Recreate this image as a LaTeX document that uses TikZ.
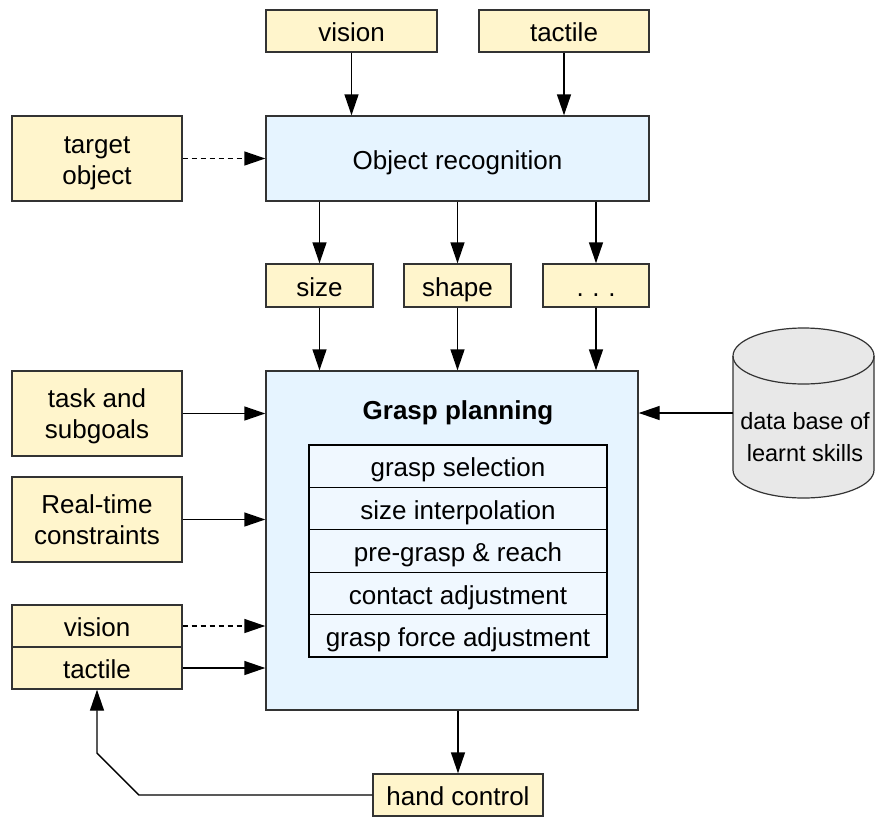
\documentclass[tikz,border=0pt]{standalone}
\usepackage{fontspec}
\setmainfont{Liberation Sans}
\usetikzlibrary{arrows.meta}
\definecolor{yel}{RGB}{255,245,204}
\definecolor{blu}{RGB}{230,244,255}
\definecolor{tbl}{RGB}{240,248,255}
\definecolor{cyl}{RGB}{232,232,232}
\definecolor{bord}{RGB}{51,51,51}
\tikzset{
  ybox/.style={draw=bord, fill=yel, line width=1.4pt, inner sep=0pt, align=center,
    font=\fontsize{26}{31}\selectfont},
  oneline/.style={text height=21.5pt, text depth=0pt},
  bbox/.style={draw=bord, fill=blu, line width=1.4pt, inner sep=0pt, align=center,
    font=\fontsize{26}{31}\selectfont},
  twoline/.style={inner sep=0pt, align=center, font=\fontsize{26}{31}\selectfont},
  rowbox/.style={draw=black, fill=tbl, line width=1.2pt, inner sep=0pt, oneline,
    minimum width=298pt, minimum height=42.4pt, font=\fontsize{26}{31}\selectfont},
  arr/.style={line width=1.4pt, -{Triangle[length=21pt,width=14pt]}},
  darr/.style={arr, dash pattern=on 5pt off 4pt},
}
\begin{document}
\begin{tikzpicture}[x=1pt,y=-1pt]
\useasboundingbox (0,0) rectangle (875,817);
% top inputs
\node[ybox, oneline, minimum width=171pt, minimum height=42pt] (vis1) at (351.5,31) {vision};
\node[ybox, oneline, minimum width=170pt, minimum height=42pt] (tac1) at (564,31) {tactile};
\node[ybox, minimum width=170pt, minimum height=85pt] (target) at (97,158.5) {};
\node[twoline] (targett) at (97,163) {target\\object};
\node[bbox, oneline, minimum width=383pt, minimum height=85pt] (objrec) at (457.5,158.5) {Object recognition};
% features
\node[ybox, oneline, minimum width=107pt, minimum height=43pt] (size) at (319.5,285.5) {size};
\node[ybox, oneline, minimum width=107pt, minimum height=43pt] (shape) at (457.5,285.5) {shape};
\node[ybox, oneline, minimum width=106pt, minimum height=43pt] (dots) at (596,285.5) {.\,\,.\,\,.};
% grasp planning
\node[bbox, minimum width=372pt, minimum height=339pt] (grasp) at (452,540.5) {};
\node[font=\fontsize{26}{31}\selectfont\bfseries, inner sep=0pt, oneline] (gtitle) at (458,408.5) {Grasp planning};
\node[rowbox] (r1) at (458,466.2) {grasp selection};
\node[rowbox] (r2) at (458,508.6) {size interpolation};
\node[rowbox] (r3) at (458,551.0) {pre-grasp \& reach};
\node[rowbox] (r4) at (458,593.4) {contact adjustment};
\node[rowbox] (r5) at (458,635.8) {grasp force adjustment};
% left inputs
\node[ybox, minimum width=170pt, minimum height=85pt] (task) at (97,413.5) {};
\node[twoline] (taskt) at (97,416) {task and\\subgoals};
\node[ybox, minimum width=170pt, minimum height=85pt] (rt) at (97,519.5) {};
\node[twoline] (rtt) at (97,520) {Real-time\\constraints};
\node[ybox, oneline, minimum width=170pt, minimum height=42pt] (vis2) at (97,626) {vision};
\node[ybox, oneline, minimum width=170pt, minimum height=42pt] (tac2) at (97,668) {tactile};
% hand control
\node[ybox, oneline, minimum width=170pt, minimum height=42pt] (hand) at (458,795) {hand control};
% database cylinder
\fill[cyl] (733,356) -- (733,470) arc[start angle=180,end angle=0,x radius=70.5,y radius=28]
  -- (874,356) arc[start angle=0,end angle=-180,x radius=70.5,y radius=28] -- cycle;
\draw[line width=1.2pt, draw=bord] (733,356) -- (733,470) arc[start angle=180,end angle=0,x radius=70.5,y radius=28] -- (874,356);
\draw[line width=1.2pt, draw=bord] (803.5,356) ellipse [x radius=70.5, y radius=28];
\node[align=center, inner sep=0pt, font=\fontsize{23.5}{32}\selectfont] (dbtext) at (805,437.5) {data base of\\learnt skills};
\coordinate (db) at (733,413);
% connectors
\draw[arr] (vis1.south) -- (vis1.south|-objrec.north);
\draw[arr] (tac1.south) -- (tac1.south|-objrec.north);
\draw[darr] (target.east) -- (objrec.west);
\draw[arr] (size.north|-objrec.south) -- (size.north);
\draw[arr] (shape.north|-objrec.south) -- (shape.north);
\draw[arr] (dots.north|-objrec.south) -- (dots.north);
\draw[arr] (size.south) -- (size.south|-grasp.north);
\draw[arr] (shape.south) -- (shape.south|-grasp.north);
\draw[arr] (dots.south) -- (dots.south|-grasp.north);
\draw[arr] (task.east) -- (task.east-|grasp.west);
\draw[arr] (rt.east) -- (rt.east-|grasp.west);
\draw[darr] (vis2.east) -- (vis2.east-|grasp.west);
\draw[arr] (tac2.east) -- (tac2.east-|grasp.west);
\draw[arr] (db) -- (db-|grasp.east);
\draw[arr] (hand.north|-grasp.south) -- (hand.north);
\coordinate (b1) at (139,795);
\coordinate (b2) at (97,753);
\draw[arr] (hand.west) -- (b1) -- (b2) -- (tac2.south);
\end{tikzpicture}
\end{document}
